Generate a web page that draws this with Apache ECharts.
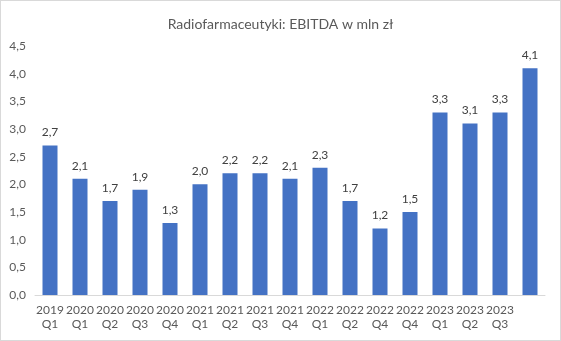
<!DOCTYPE html>
<html>
<head>
<meta charset="utf-8">
<script src="https://cdn.jsdelivr.net/npm/echarts@6/dist/echarts.min.js"></script>
<style>
  html, body { margin: 0; padding: 0; background: #fff; }
  #chart { width: 561px; height: 341px; box-sizing: border-box; border: 1px solid #d9d9d9; }
</style>
</head>
<body>
<div id="chart"></div>
<script>
// Quarterly EBITDA of the radiopharmaceuticals segment, in mln zł
const quarters = [
  '2019\nQ1', '2020\nQ1', '2020\nQ2', '2020\nQ3', '2020\nQ4',
  '2021\nQ1', '2021\nQ2', '2021\nQ3', '2021\nQ4', '2022\nQ1',
  '2022\nQ2', '2022\nQ4', '2022\nQ4', '2023\nQ1', '2023\nQ2',
  '2023\nQ3', ''
];
const ebitda = [2.7, 2.1, 1.7, 1.9, 1.3, 2.0, 2.2, 2.2, 2.1, 2.3, 1.7, 1.2, 1.5, 3.3, 3.1, 3.3, 4.1];
const yTicks = { min: 0, max: 4.5, step: 0.5 };

const fmt = v => v.toFixed(1).replace('.', ',');
const FONT = 'Lato';

const chart = echarts.init(document.getElementById('chart'));
chart.setOption({
  animation: false,
  textStyle: { fontFamily: FONT },
  title: {
    text: 'Radiofarmaceutyki: EBITDA w mln zł',
    left: 'center',
    top: 11,
    textStyle: { fontFamily: FONT, fontSize: 14, fontWeight: 'normal', color: '#595959' }
  },
  grid: { left: 34, right: 15, top: 45, bottom: 45 },
  xAxis: {
    type: 'category',
    data: quarters,
    axisLine: { lineStyle: { color: '#d9d9d9' } },
    axisTick: { show: false },
    axisLabel: { color: '#595959', fontSize: 12, lineHeight: 14, margin: 8, interval: 0 }
  },
  yAxis: {
    type: 'value',
    min: yTicks.min,
    max: yTicks.max,
    interval: yTicks.step,
    splitLine: { show: false },
    axisLine: { show: false },
    axisTick: { show: false },
    axisLabel: { color: '#595959', fontSize: 12, margin: 9, formatter: fmt }
  },
  series: [{
    type: 'bar',
    data: ebitda,
    barWidth: '50%',
    itemStyle: { color: '#4472c4' },
    label: {
      show: true,
      position: 'top',
      distance: 7,
      color: '#404040',
      fontSize: 12,
      formatter: p => fmt(p.value)
    }
  }]
});
</script>
</body>
</html>
